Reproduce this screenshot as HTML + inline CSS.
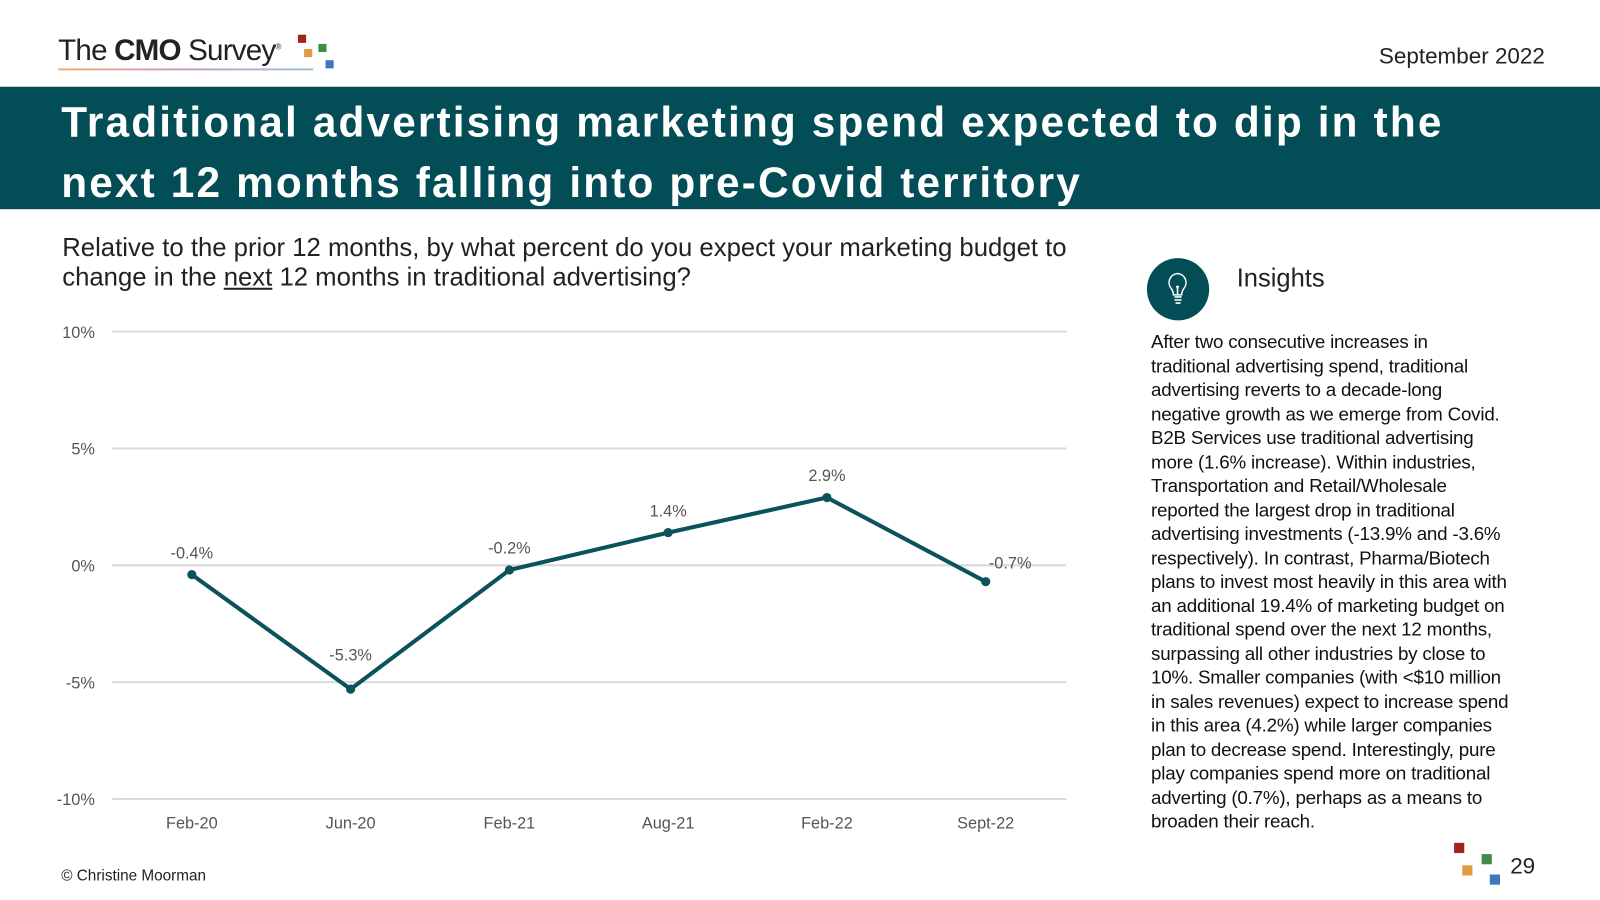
<!DOCTYPE html>
<html><head><meta charset="utf-8"><style>
body{margin:0;width:1600px;height:900px;background:#fff;font-family:"Liberation Sans",sans-serif;position:relative;overflow:hidden}
#wrap{position:absolute;left:0;top:0;width:1568px;height:882px;transform:scale(1.0204);transform-origin:0 0}
.a{position:absolute}
</style></head><body>
<div id="wrap">
<div class="a" style="left:57px;top:34px;font-size:29px;color:#222;letter-spacing:-0.8px">The <b>CMO</b> Survey<sup style="font-size:8px">®</sup></div>
<div class="a" style="left:57px;top:67px;width:250px;height:2px;background:linear-gradient(90deg,#e9b27a,#c9a0c9,#9ec3d8)"></div>
<div class="a" style="left:292px;top:34px;width:8px;height:8px;background:#a3231f"></div>
<div class="a" style="left:298px;top:48px;width:8px;height:8px;background:#e39b45"></div>
<div class="a" style="left:312px;top:43px;width:8px;height:8px;background:#3e8e4a"></div>
<div class="a" style="left:319px;top:59px;width:8px;height:8px;background:#3a78c0"></div>
<div class="a" style="right:54px;top:42px;font-size:22px;color:#222">September 2022</div>
<div class="a" style="left:0;top:85px;width:1568px;height:120px;background:#034d57"></div>
<div class="a" style="left:60px;top:90px;font-size:41.5px;font-weight:bold;color:#fff;line-height:59px;letter-spacing:2.1px;white-space:nowrap">Traditional advertising marketing spend expected to dip in the<br>next 12 months falling into pre-Covid territory</div>
<div class="a" style="left:61px;top:229px;font-size:25.2px;line-height:29px;color:#222;white-space:nowrap">Relative to the prior 12 months, by what percent do you expect your marketing budget to<br>change in the <u>next</u> 12 months in traditional advertising?</div>
<svg class="a" style="left:0;top:0" width="1100" height="882" id="ch"></svg>
<div class="a" style="left:1124px;top:253px;width:61px;height:61px;border-radius:50%;background:#034d57">
<svg width="61" height="61"><path d="M30 15 a9 9 0 0 1 6 15 q-2 3 -2 6 h-8 q0-3 -2-6 a9 9 0 0 1 6-15z M27 38h7 M27 41h7 M28 44h5 M29 27 l1 3 l1-3 M30 30 v6" stroke="#fff" stroke-width="1.5" fill="none"/></svg></div>
<div class="a" style="left:1212px;top:259px;font-size:25px;color:#222">Insights</div>
<div class="a" style="left:1128px;top:323px;font-size:18.4px;line-height:23.5px;color:#111;letter-spacing:-0.2px;white-space:nowrap">After two consecutive increases in<br>traditional advertising spend, traditional<br>advertising reverts to a decade-long<br>negative growth as we emerge from Covid.<br>B2B Services use traditional advertising<br>more (1.6% increase). Within industries,<br>Transportation and Retail/Wholesale<br>reported the largest drop in traditional<br>advertising investments (-13.9% and -3.6%<br>respectively). In contrast, Pharma/Biotech<br>plans to invest most heavily in this area with<br>an additional 19.4% of marketing budget on<br>traditional spend over the next 12 months,<br>surpassing all other industries by close to<br>10%. Smaller companies (with &lt;$10 million<br>in sales revenues) expect to increase spend<br>in this area (4.2%) while larger companies<br>plan to decrease spend. Interestingly, pure<br>play companies spend more on traditional<br>adverting (0.7%), perhaps as a means to<br>broaden their reach.</div>
<div class="a" style="left:60px;top:850px;font-size:15px;color:#222">© Christine Moorman</div>
<div class="a" style="left:1425px;top:826px;width:10px;height:10px;background:#a3231f"></div>
<div class="a" style="left:1433px;top:848px;width:10px;height:10px;background:#e39b45"></div>
<div class="a" style="left:1452px;top:837px;width:10px;height:10px;background:#3e8e4a"></div>
<div class="a" style="left:1460px;top:857px;width:10px;height:10px;background:#3a78c0"></div>
<div class="a" style="left:1480px;top:836px;font-size:22px;color:#222">29</div>
</div>
<script>
const categories=["Feb-20","Jun-20","Feb-21","Aug-21","Feb-22","Sept-22"];
const values=[-0.4,-5.3,-0.2,1.4,2.9,-0.7];
const ticks=[10,5,0,-5,-10];
const svg=document.getElementById('ch');const NS='http://www.w3.org/2000/svg';
const y=v=>554-v*22.9;
const x=i=>188+i*155.6;
function mk(t,a,txt){const e=document.createElementNS(NS,t);for(const k in a)e.setAttribute(k,a[k]);if(txt!=null)e.textContent=txt;svg.appendChild(e);return e;}
ticks.forEach(t=>{
 const g=mk('line',{x1:110,x2:1045,y1:y(t),y2:y(t),stroke:'#d9d9d9','stroke-width':2});
 
 
 const l=mk('text',{x:93,y:y(t)+6,'text-anchor':'end','font-size':16,fill:'#555','font-family':'Liberation Sans'},t+'%');
 
 
});
categories.forEach((c,i)=>{
 const l=mk('text',{x:x(i),y:812,'text-anchor':'middle','font-size':16,fill:'#555','font-family':'Liberation Sans'},c);
 
 
});
const p=mk('polyline',{points:values.map((v,i)=>x(i)+','+y(v)).join(' '),fill:'none',stroke:'#0b525b','stroke-width':4,'stroke-linejoin':'round'});


values.forEach((v,i)=>{
 const c=mk('circle',{cx:x(i),cy:y(v),r:4.5,fill:'#0b525b'});
 
 
 const dx=i==5?24:0, dy=i==5?-13:(i==1?-28:-16);
 const t=mk('text',{x:x(i)+dx,y:y(v)+dy,'text-anchor':'middle','font-size':16,fill:'#555','font-family':'Liberation Sans'},v.toFixed(1)+'%');
 
 
});
</script>
</body></html>
